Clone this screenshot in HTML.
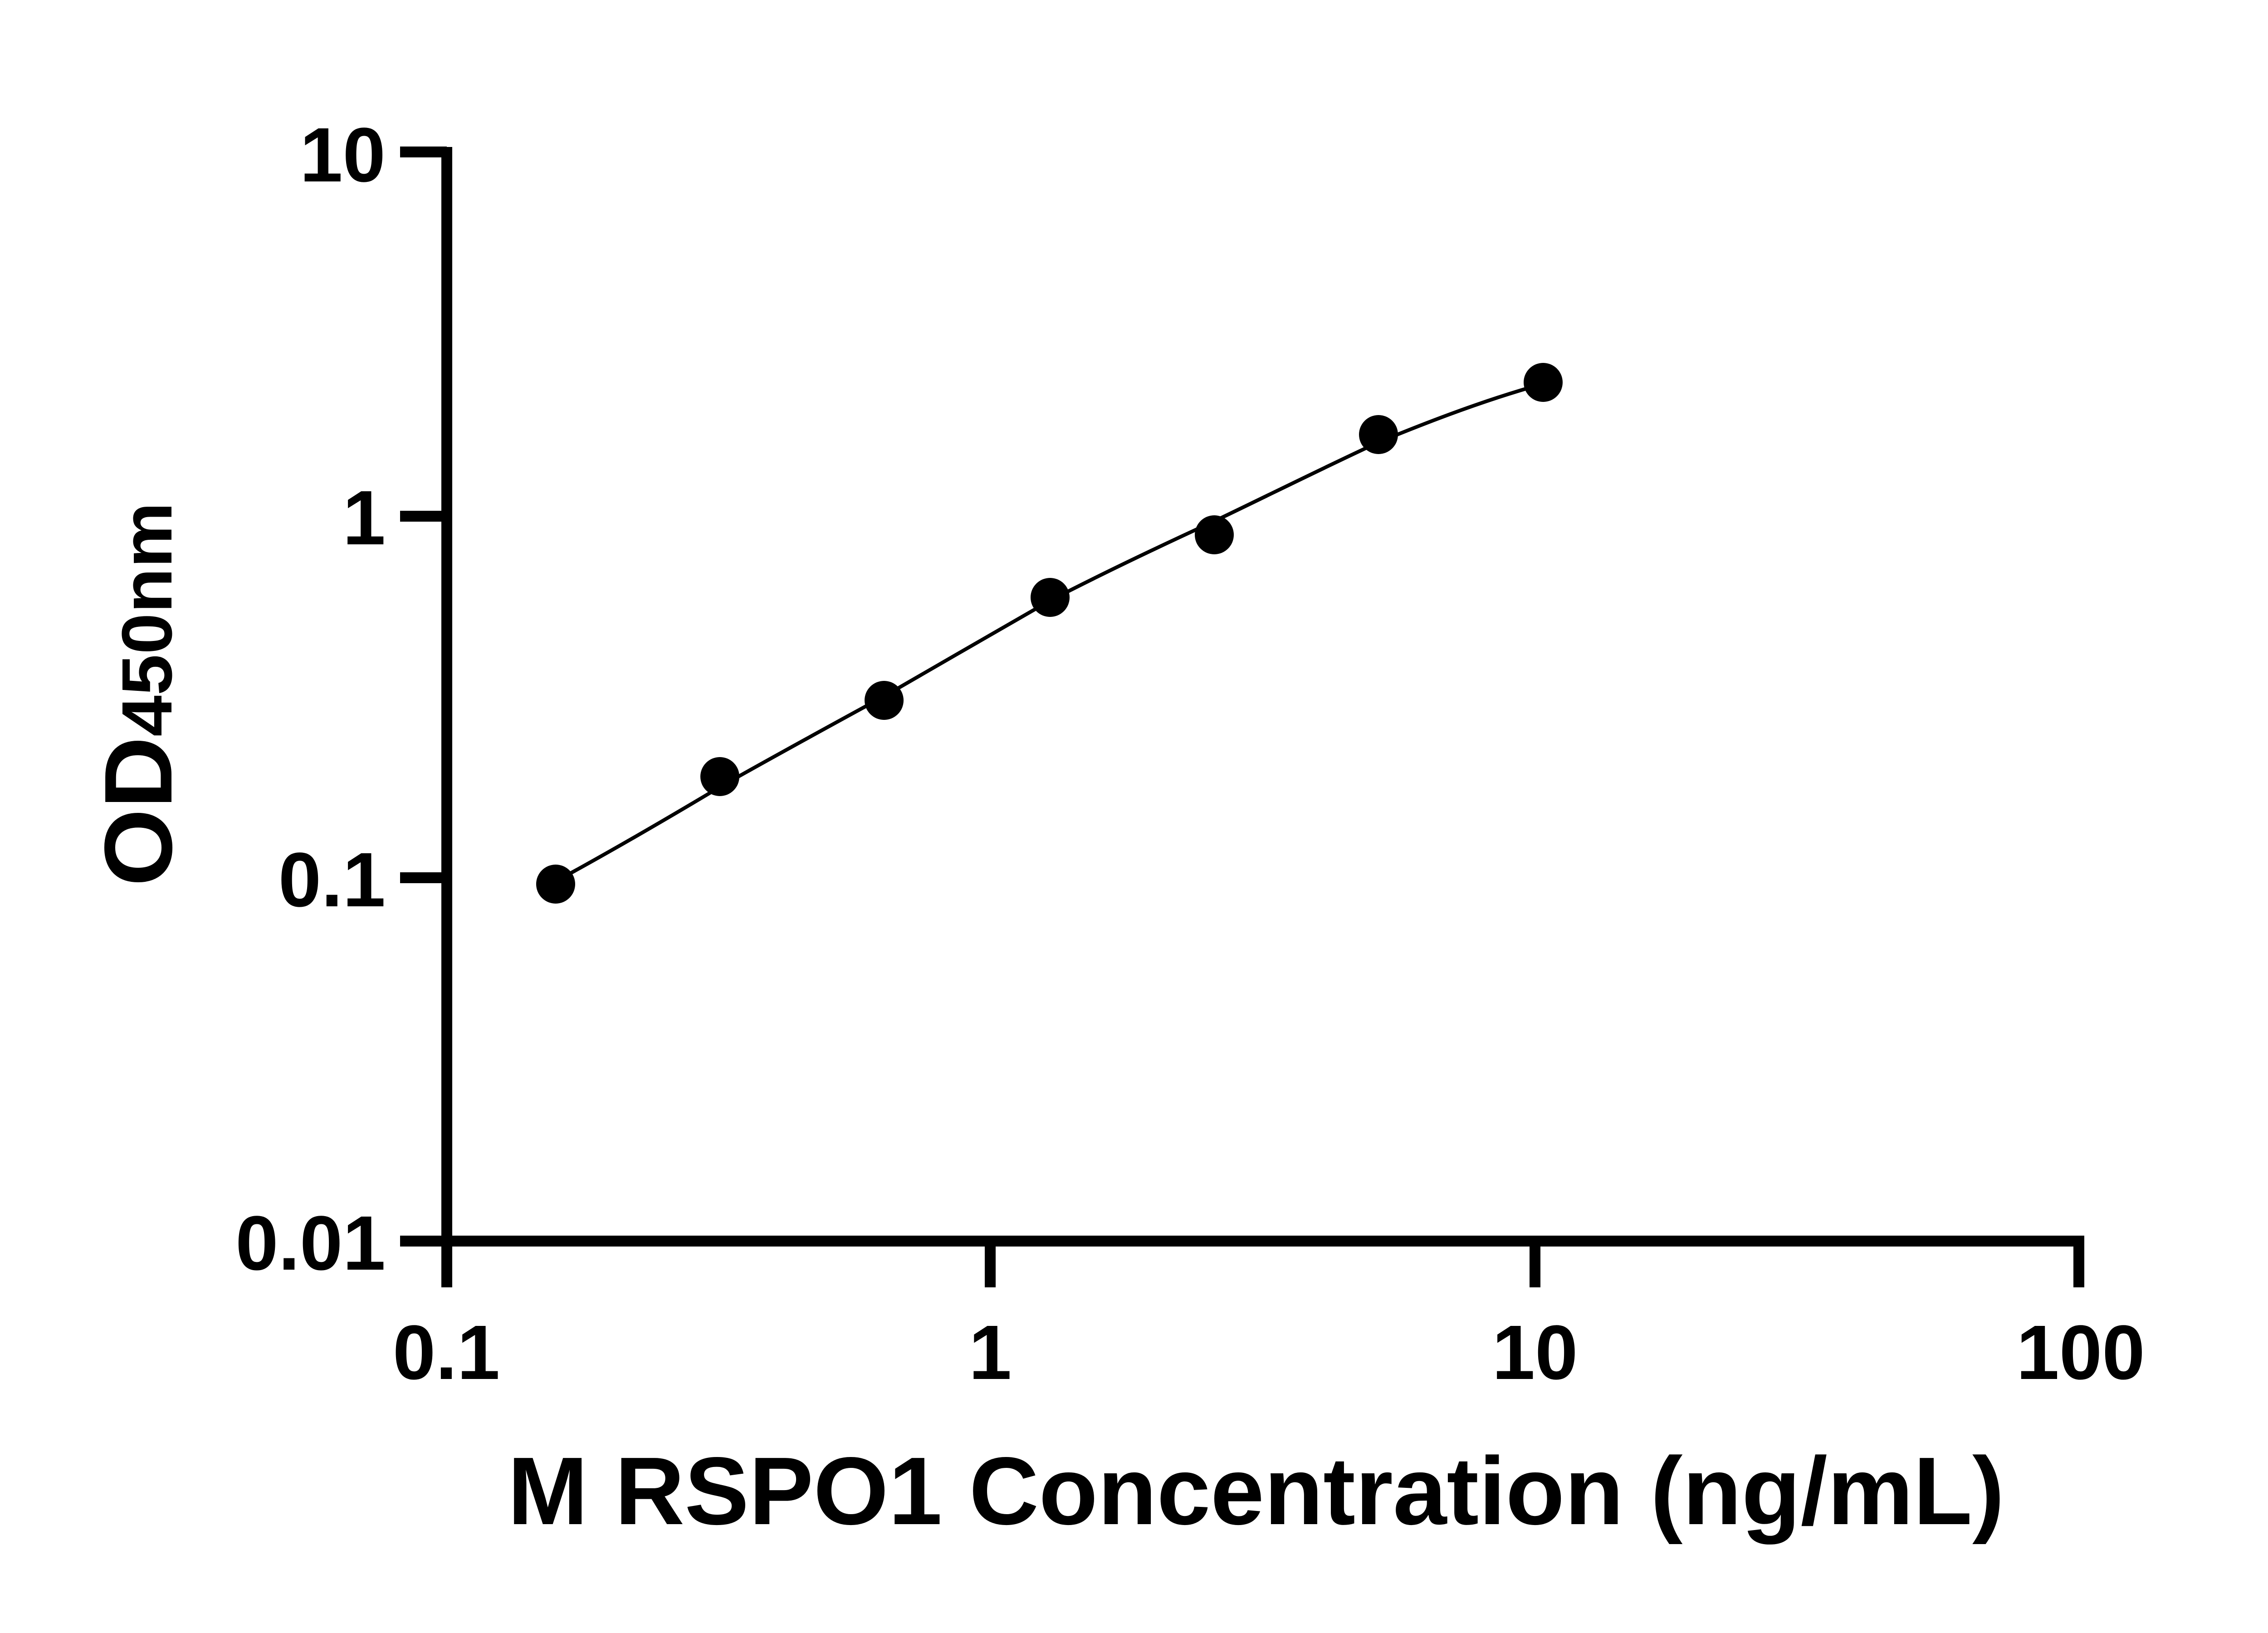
<!DOCTYPE html>
<html><head><meta charset="utf-8"><style>html,body{margin:0;padding:0;background:#fff}svg{display:block}</style></head>
<body>
<svg width="5137" height="3600" viewBox="0 0 5137 3600" xmlns="http://www.w3.org/2000/svg">
<rect width="5137" height="3600" fill="#fff"/>
<g stroke="#000" fill="none" stroke-linecap="butt">
<line x1="985" y1="324" x2="985" y2="2838" stroke-width="24"/>
<line x1="882" y1="2736" x2="4595" y2="2736" stroke-width="24"/>
<line x1="882" y1="335" x2="985" y2="335" stroke-width="24"/>
<line x1="882" y1="1138" x2="985" y2="1138" stroke-width="24"/>
<line x1="882" y1="1935" x2="985" y2="1935" stroke-width="24"/>
<line x1="2183" y1="2736" x2="2183" y2="2838" stroke-width="24"/>
<line x1="3384" y1="2736" x2="3384" y2="2838" stroke-width="24"/>
<line x1="4583" y1="2736" x2="4583" y2="2838" stroke-width="24"/>
<path d="M1225,1943 C1350,1875 1470,1805 1587,1735 C1705,1668 1830,1600 1949,1535 C2070,1465 2195,1393 2315,1324 C2435,1262 2555,1205 2677,1149 C2800,1090 2920,1030 3039,975 C3160,925 3280,880 3402,846" stroke-width="8"/>
</g>
<g fill="#000">
<circle cx="1225" cy="1949" r="43"/>
<circle cx="1587" cy="1712" r="43"/>
<circle cx="1949" cy="1544" r="43"/>
<circle cx="2315" cy="1317" r="43"/>
<circle cx="2677" cy="1179" r="43"/>
<circle cx="3039" cy="958" r="43"/>
<circle cx="3402" cy="843" r="43"/>
</g>
<g font-family="Liberation Sans, sans-serif" font-weight="bold" font-size="170" fill="#000">
<text x="850" y="400" text-anchor="end">10</text>
<text x="850" y="1200" text-anchor="end">1</text>
<text x="850" y="1998" text-anchor="end">0.1</text>
<text x="850" y="2799" text-anchor="end">0.01</text>
<text x="984" y="3040" text-anchor="middle">0.1</text>
<text x="2183" y="3040" text-anchor="middle">1</text>
<text x="3384" y="3040" text-anchor="middle">10</text>
<text x="4587" y="3040" text-anchor="middle">100</text>
<text x="1119" y="3360" font-size="212" textLength="3300" lengthAdjust="spacingAndGlyphs">M RSPO1 Concentration (ng/mL)</text>
<text transform="translate(378,1954) rotate(-90)" font-size="212" textLength="847" lengthAdjust="spacingAndGlyphs">OD<tspan font-size="157">450nm</tspan></text>
</g>
</svg>
</body></html>
